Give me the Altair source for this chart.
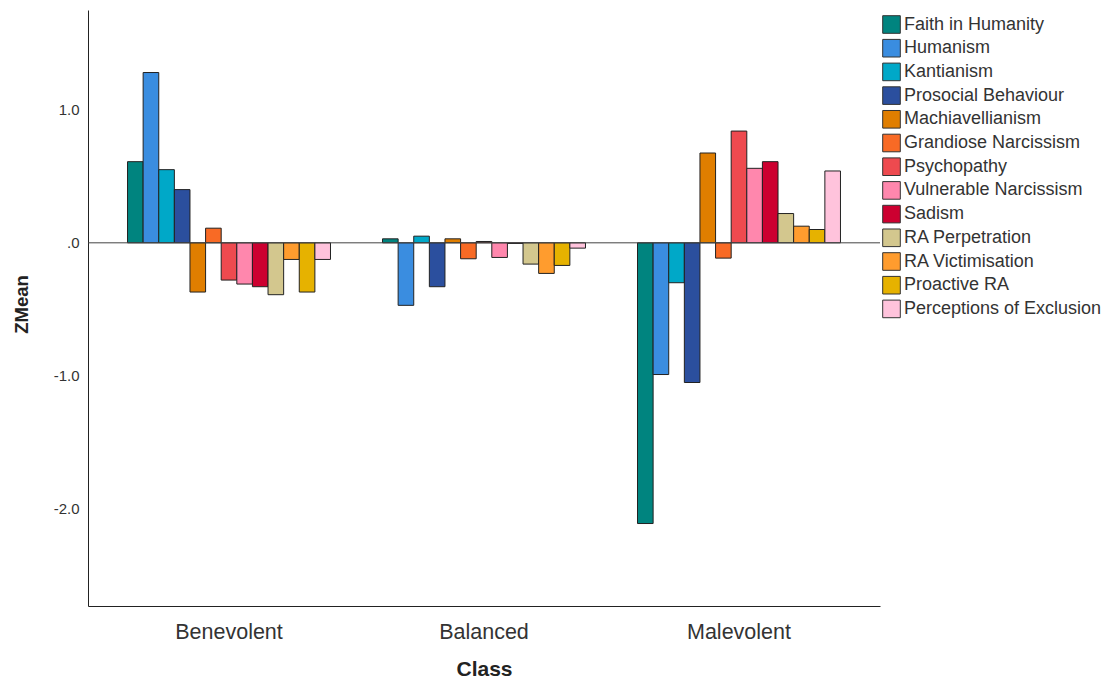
import altair as alt
import pandas as pd

classes = ["Benevolent", "Balanced", "Malevolent"]
variables = [
    "Faith in Humanity", "Humanism", "Kantianism", "Prosocial Behaviour",
    "Machiavellianism", "Grandiose Narcissism", "Psychopathy",
    "Vulnerable Narcissism", "Sadism", "RA Perpetration", "RA Victimisation",
    "Proactive RA", "Perceptions of Exclusion",
]
colors = [
    "#00847f", "#3a8de0", "#00a8c8", "#2b4f9e", "#e07e00", "#f86a25",
    "#ee4a4f", "#ff87ad", "#cc0030", "#d3c78e", "#ff9c2e", "#e6b200", "#ffc3dc",
]
benevolent = [0.61, 1.28, 0.55, 0.40, -0.37, 0.11, -0.28, -0.31, -0.33, -0.39, -0.125, -0.37, -0.125]
balanced = [0.03, -0.47, 0.05, -0.33, 0.03, -0.12, 0.01, -0.11, -0.005, -0.16, -0.23, -0.17, -0.04]
malevolent = [-2.11, -0.99, -0.30, -1.05, 0.675, -0.115, 0.84, 0.56, 0.61, 0.22, 0.125, 0.10, 0.54]

rows = []
for cls, vals in zip(classes, [benevolent, balanced, malevolent]):
    for v, z in zip(variables, vals):
        rows.append({"Class": cls, "Variable": v, "ZMean": z})
df = pd.DataFrame(rows)

FONT = "Liberation Sans"

bars = alt.Chart(df).mark_bar(stroke="#222222", strokeWidth=1, opacity=1).encode(
    x=alt.X(
        "Class:N", sort=classes,
        scale=alt.Scale(paddingInner=0.204, paddingOuter=0.155),
        axis=alt.Axis(
            title="Class", labelAngle=0, ticks=False, labelFontSize=21.5,
            labelColor="#333333", labelPadding=15, labelFont=FONT,
            titleFont=FONT, titleFontSize=21, titleFontWeight="bold",
            titleColor="#222222", titleY=63, titleBaseline="middle",
            domainColor="#222222", domainWidth=1,
        ),
    ),
    xOffset=alt.XOffset("Variable:N", sort=variables,
                        scale=alt.Scale(paddingInner=0, paddingOuter=0)),
    y=alt.Y(
        "ZMean:Q",
        scale=alt.Scale(domain=[-2.73, 1.75], nice=False, zero=False),
        axis=alt.Axis(
            title="ZMean", values=[-2, -1, 0, 1], ticks=False, grid=False,
            labelExpr="datum.value == 0 ? '.0' : (datum.value < 0 ? '-' + format(-datum.value, '.1f') : format(datum.value, '.1f'))",
            labelFontSize=15, labelColor="#333333", labelPadding=9, labelFont=FONT,
            titleFont=FONT, titleFontSize=18.5, titleFontWeight="bold",
            titleColor="#222222", titleX=-66.5, titleY=294, titleBaseline="middle",
            titleAngle=-90, domainColor="#222222", domainWidth=1,
        ),
    ),
    color=alt.Color(
        "Variable:N", sort=variables,
        scale=alt.Scale(domain=variables, range=colors),
        legend=alt.Legend(
            title=None, orient="none", legendX=794, legendY=5,
            symbolType="square", symbolSize=310, symbolStrokeColor="#333333",
            symbolStrokeWidth=1, symbolOpacity=1, labelFontSize=18,
            labelFont=FONT, labelColor="#333333", labelOffset=3,
            rowPadding=0.7, labelLimit=300,
        ),
    ),
)

zero = alt.Chart(pd.DataFrame({"y": [0]})).mark_rule(
    color="#444444", strokeWidth=1
).encode(y="y:Q")

chart = alt.layer(bars, zero).properties(
    width=792, height=596,
    background="white",
    autosize=alt.AutoSizeParams(type="none"),
    padding={"left": 80, "top": 2, "right": 221, "bottom": 73},
).configure_view(stroke="transparent", strokeWidth=0)

chart.save("out.html", embed_options={"renderer": "svg", "actions": False})
